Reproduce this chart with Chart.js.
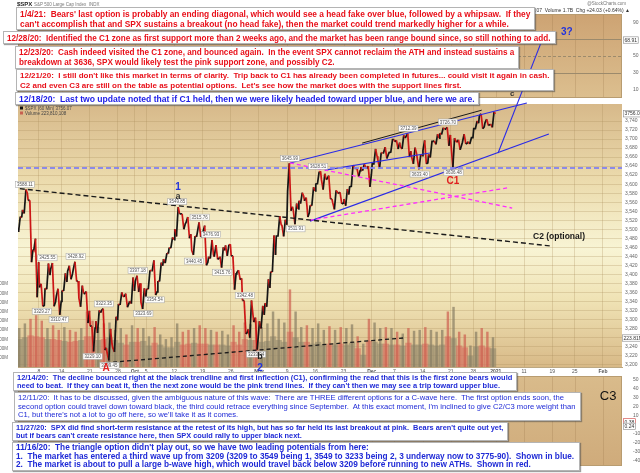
<!DOCTYPE html>
<html><head><meta charset="utf-8">
<script src="https://cdn.jsdelivr.net/npm/chart.js@4.4.1/dist/chart.umd.min.js"></script>
<style>
html,body{margin:0;padding:0;background:#fff;}
#wrap{position:relative;width:640px;height:473px;overflow:hidden;font-family:"Liberation Sans",Arial,sans-serif;}
canvas{position:absolute;left:0;}
.box{position:absolute;z-index:5;background:#fff;border:1px solid #b4b4b4;box-shadow:1px 1px 1px rgba(80,80,80,0.55);white-space:nowrap;font-weight:bold;box-sizing:border-box;padding:1px 3px;overflow:hidden;}
.red{color:#e8101a;}
.blue{color:#1c1ce8;}
.navy{color:#1f2ad6;}
.reg{font-weight:normal;}
</style></head><body>
<div id="wrap">
<canvas id="cTop" width="640" height="104" style="top:0"></canvas>
<canvas id="cBot" width="640" height="103" style="top:370px"></canvas>
<canvas id="cMain" width="640" height="473" style="top:0"></canvas>

<div class="box red" style="left:16px;top:7px;width:519px;height:23px;line-height:10px" data-tw="511"><span>1/4/21:&nbsp; Bears' last option is probably an ending diagonal, which would see a head fake over blue, followed by a whipsaw.&nbsp; If they</span><br><span>can't accomplish that and SPX sustains a breakout (no head fake), then the market could trend markedly higher for a while.</span></div>
<div class="box red" style="left:3px;top:31px;width:553px;height:13px;line-height:11px" data-tw="544"><span>12/28/20:&nbsp; Identified the C1 zone as first support more than 2 weeks ago, and the market has been range bound since, so still nothing to add.</span></div>
<div class="box red" style="left:15px;top:46px;width:504px;height:23px;line-height:10px" data-tw="496"><span>12/23/20:&nbsp; Cash indeed visited the C1 zone, and bounced again.&nbsp; In the event SPX cannot reclaim the ATH and instead sustains a</span><br><span>breakdown at 3636, SPX would likely test the pink support zone, and possibly C2.</span></div>
<div class="box red" style="left:16px;top:69px;width:538px;height:22px;line-height:10px" data-tw="530"><span>12/21/20:&nbsp; I still don't like this market in terms of clarity.&nbsp; Trip back to C1 has already been completed in futures... could visit it again in cash.</span><br><span>C2 and even C3 are still on the table as potential options.&nbsp; Let's see how the market does with the support lines first.</span></div>
<div class="box blue" style="left:15px;top:92px;width:464px;height:13px;line-height:11px" data-tw="456"><span>12/18/20:&nbsp; Last two update noted that if C1 held, then we were likely headed toward upper blue, and here we are.</span></div>

<div class="box navy" style="left:13px;top:372px;width:504px;height:19px;line-height:8.4px" data-tw="496"><span>12/14/20:&nbsp; The decline bounced right at the black trendline and first inflection (C1), confirming the read that this is the first zone bears would</span><br><span>need to beat.&nbsp; If they can beat it, then the next zone would be the pink trend lines.&nbsp; If they can't then we may see a trip toward upper blue.</span></div>
<div class="box navy reg" style="left:14px;top:392px;width:567px;height:29px;line-height:8.6px" data-tw="558"><span>12/11/20:&nbsp; It has to be discussed, given the ambiguous nature of this wave:&nbsp; There are THREE different options for a C-wave here.&nbsp; The first option ends soon, the</span><br><span>second option could travel down toward black, the third could retrace everything since September.&nbsp; At this exact moment, I'm inclined to give C2/C3 more weight than</span><br><span>C1, but there's not a lot to go off here, so we'll take it as it comes.</span></div>
<div class="box navy" style="left:12px;top:422px;width:496px;height:19px;line-height:8.4px" data-tw="488"><span>11/27/20:&nbsp; SPX did find short-term resistance at the retest of its high, but has so far held its last breakout at pink.&nbsp; Bears aren't quite out yet,</span><br><span>but if bears can't create resistance here, then SPX could rally to upper black next.</span></div>
<div class="box navy" style="left:12px;top:442px;width:568px;height:29px;line-height:8.6px" data-tw="559"><span>11/16/20:&nbsp; The triangle option didn't play out, so we have two leading potentials from here:</span><br><span>1.&nbsp; The market has entered a third wave up from 3209 (3209 to 3549 being 1, 3549 to 3233 being 2, 3 underway now to 3775-90).&nbsp; Shown in blue.</span><br><span>2.&nbsp; The market is about to pull a large b-wave high, which would travel back below 3209 before running to new ATHs.&nbsp; Shown in red.</span></div>
</div>

<script>
// ===== DATA (60-min SPX chart, summarised per trading day; index 0 = 1 Sep 2020) =====
const opens = [3507,3543,3564,3453,3371,3369,3412,3352,3364,3407,3411,3347,3357,3285,3296,3320,3226,3237,3334,3350,3341,
 3385,3338,3368,3408,3385,3434,3459,3500,3534,3515,3453,3493,3494,3439,3439,3439,3464,3441,3404,3342,3278,3294,
 3296,3336,3406,3485,3508,3584,3543,3563,3563,3553,3600,3610,3612,3559,3579,3567,3594,3635,3638,3634,
 3645,3654,3669,3670,3694,3683,3706,3660,3656,3675,3666,3696,3713,3722,3684,3694,3693,3694,3723,3751,3736,3733];
const highs = [3528,3588,3564,3479,3379,3424,3425,3368,3402,3419,3428,3375,3362,3285,3320,3324,3279,3306,3360,3357,3393,
 3397,3369,3409,3431,3426,3447,3482,3549,3534,3527,3485,3515,3508,3476,3465,3460,3466,3441,3409,3342,3342,3304,
 3330,3389,3486,3529,3521,3646,3557,3581,3570,3593,3628,3623,3619,3586,3582,3589,3642,3635,3644,3640,
 3678,3670,3682,3699,3697,3708,3712,3681,3665,3697,3695,3711,3725,3726,3702,3698,3711,3703,3740,3756,3744,3760];
const lows = [3494,3535,3427,3349,3329,3367,3329,3310,3363,3389,3384,3328,3292,3229,3270,3232,3209,3228,3332,3327,3335,
 3361,3323,3367,3354,3384,3425,3458,3484,3500,3480,3443,3483,3420,3435,3433,3415,3441,3366,3388,3268,3259,3233,
 3280,3328,3405,3485,3484,3541,3511,3557,3527,3552,3601,3588,3567,3544,3556,3552,3595,3617,3630,3594,
 3645,3635,3657,3671,3678,3678,3660,3645,3633,3645,3659,3688,3710,3685,3636,3676,3689,3689,3723,3723,3730,3726];
const closes = [3526,3580,3455,3427,3331,3398,3339,3340,3383,3401,3385,3357,3319,3281,3315,3237,3246,3298,3351,3335,3363,
 3380,3348,3408,3361,3419,3446,3477,3534,3512,3489,3483,3484,3427,3443,3436,3453,3465,3401,3391,3271,3310,3270,
 3310,3370,3443,3510,3510,3550,3545,3573,3537,3585,3627,3610,3567,3582,3558,3577,3635,3630,3638,3622,
 3662,3669,3666,3699,3692,3702,3673,3668,3663,3647,3695,3702,3722,3709,3695,3687,3691,3703,3735,3727,3732,3756];
// volume, millions (peak hourly bar and typical hourly bar of each day)
const volPeak = [420,470,520,560,500,420,450,400,430,400,380,420,600,500,430,470,480,400,420,350,450,
 420,420,330,430,350,300,320,470,380,400,420,450,420,400,380,390,350,450,380,480,460,500,
 430,470,600,520,480,840,600,430,450,420,470,400,440,400,430,420,460,330,250,520,
 480,420,430,420,380,360,420,390,400,430,400,380,400,600,650,380,350,230,380,420,380,320];
const volBase = [300,320,340,330,320,300,300,290,280,270,280,290,330,330,290,300,320,290,260,240,270,
 270,280,230,260,240,210,210,270,240,250,260,250,250,240,240,240,230,270,240,300,290,290,
 270,280,330,290,270,380,320,270,270,250,270,240,250,240,250,240,260,200,130,280,
 270,250,250,240,240,230,260,240,240,250,240,230,240,330,310,230,210,120,220,230,210,200];

const xTickDays   = [4,8,13,18,21,23,28,33,38,43,48,53,58,63,67,72,77,81,85,90,95,99,104];
const xTickLabels = ['8','14','21','28','Oct','5','12','19','26','Nov','9','16','23','Dec','7','14','21','28','2021','11','19','25','Feb'];
const monthLabels = ['Oct','Nov','Dec','2021','Feb'];
const priceTicks = [3200,3220,3240,3260,3280,3300,3320,3340,3360,3380,3400,3420,3440,3460,3480,3500,3520,3540,3560,3580,3600,3620,3640,3660,3680,3700,3720,3740];
const volTicks = [100,200,300,400,500,600,700,800,900];
const rsiTicks = [10,30,50,70,90];
const oscTicks = [50,40,30,20,10,-10,-20,-30,-40];

// trend lines: [day index, price]
const blackLongLine  = [[0.6,3590],[94.6,3463]];
const blackLowLine   = [[15.9,3204],[68.7,3259]];
const blackUpperLine = [[61.3,3691],[82.5,3764]];
const blueUpperLine  = [[48.5,3647],[90.5,3780]];
const blueLowerLine  = [[52.05,3518],[94.4,3711]];
const blueMidLine    = [[54.7,3631],[73.3,3669]];
const blueSteepLine  = [[85.4,3669],[93.4,3926]];
const pinkFallLine   = [[48.5,3647],[87.9,3547]];
const pinkRiseLine   = [[52.0,3520],[87.2,3592]];
const breakdownLevel = 3636;

// price tags [day centre, price, text, above?]
const priceTags = [
 [1.5,3588.11,'3588.11',1],[5.5,3425.55,'3425.55',1],[10.5,3428.92,'3428.92',1],[4.5,3329.27,'3329.27',0],
 [7.5,3310.47,'3310.47',0],[15.5,3323.35,'3323.35',1],[13.5,3229.10,'3229.10',0],[16.5,3209.45,'3209.45',0],
 [21.5,3397.18,'3397.18',1],[22.5,3323.69,'3323.69',0],[24.5,3354.54,'3354.54',0],[28.5,3549.85,'3549.85',1],
 [32.5,3515.76,'3515.76',1],[31.5,3440.45,'3440.45',0],[34.5,3476.93,'3476.93',1],[36.5,3415.76,'3415.76',0],
 [40.5,3342.48,'3342.48',1],[42.5,3233.94,'3233.94',0],[48.5,3645.99,'3645.99',1],[49.5,3511.91,'3511.91',0],
 [53.5,3628.51,'3628.51',1],[69.5,3712.39,'3712.39',1],[71.5,3633.40,'3633.40',0],[76.5,3726.70,'3726.70',1],
 [77.5,3636.48,'3636.48',0]
];
// wave labels [day, price, text, colour, font]
const waveLabels = [
 [28.65,3594,'1','#2233dd','bold 10px'],[28.65,3572,'a','#333','bold 9px'],
 [15.9,3192,'A','#e02020','bold 10px'],[43.2,3217,'b','#222','bold 9px'],[43.2,3192,'2','#2233dd','bold 10px'],
 [77.4,3607,'C1','#e02020','bold 10px'],[87.9,3800,'c','#333','bold 8px'],[97.6,3937,'3?','#2233dd','bold 10px'],
 [96.2,3483,'C2 (optional)','#1a1a1a','bold 8.5px']
];
const c3Label = [104.9,31,'C3'];

const X_MIN = 0.28, X_MAX = 107.37;
const FONT = '"Liberation Sans", Arial, sans-serif';

function vGrid(chart, color){
  const {ctx, chartArea:a, scales:{x}} = chart;
  ctx.save(); ctx.strokeStyle=color; ctx.lineWidth=1;
  xTickDays.forEach(d=>{const px=Math.round(x.getPixelForValue(d))+0.5; ctx.beginPath(); ctx.moveTo(px,a.top); ctx.lineTo(px,a.bottom); ctx.stroke();});
  ctx.restore();
}
function valBox(ctx, x, y, text, border){
  ctx.save(); ctx.font='5px '+FONT; const w=ctx.measureText(text).width+3;
  ctx.fillStyle='#fff'; ctx.fillRect(x,y-3.5,w,7); ctx.strokeStyle=border||'#888'; ctx.lineWidth=0.6; ctx.strokeRect(x+0.3,y-3.2,w-0.6,6.4);
  ctx.fillStyle='#333'; ctx.textBaseline='middle'; ctx.textAlign='left'; ctx.fillText(text,x+1.5,y+0.3); ctx.restore();
}

// ===== TOP (RSI) PANEL =====
new Chart(document.getElementById('cTop'), {
  type:'line', data:{datasets:[]},
  options:{responsive:false, animation:false, events:[],
    layout:{padding:{top:14,left:18,right:0,bottom:2}},
    plugins:{legend:{display:false},tooltip:{enabled:false}},
    scales:{
      x:{type:'linear',min:X_MIN,max:X_MAX,display:false},
      y:{position:'right',min:0,max:100,afterFit(s){s.width=18;},afterBuildTicks(s){s.ticks=rsiTicks.map(v=>({value:v}));},
         grid:{display:false},border:{display:false},ticks:{font:{size:5,family:FONT},color:'#666',padding:3}}
    }},
  plugins:[{id:'topbg',
    beforeDraw(c){const {ctx,chartArea:a}=c; const g=ctx.createLinearGradient(0,a.top,0,a.bottom);
      g.addColorStop(0,'#cda373'); g.addColorStop(1,'#dcbf8f'); ctx.fillStyle=g; ctx.fillRect(a.left,a.top,a.right-a.left,a.bottom-a.top);
      vGrid(c,'rgba(150,115,70,0.25)');
      const y=c.scales.y; ctx.save(); ctx.strokeStyle='#9c8a6c'; ctx.lineWidth=1;
      [70,30].forEach(v=>{const py=Math.round(y.getPixelForValue(v))+0.5; ctx.beginPath(); ctx.moveTo(a.left,py); ctx.lineTo(a.right,py); ctx.stroke();});
      ctx.setLineDash([3,2]); const p5=Math.round(y.getPixelForValue(50))+0.5; ctx.beginPath(); ctx.moveTo(a.left,p5); ctx.lineTo(a.right,p5); ctx.stroke(); ctx.restore();
      ctx.save(); ctx.strokeStyle='#b89c70'; ctx.strokeRect(a.left+0.5,a.top+0.5,a.right-a.left-1,a.bottom-a.top-1); ctx.restore();
    },
    afterDraw(c){const {ctx}=c; ctx.save(); ctx.textBaseline='middle';
      ctx.fillStyle='#222'; ctx.font='bold 6px '+FONT; ctx.textAlign='left'; ctx.fillText('$SPX',17,4.5);
      ctx.fillStyle='#777'; ctx.font='4.5px '+FONT; ctx.fillText('S&P 500 Large Cap Index  INDX',34,4.5);
      ctx.textAlign='right'; ctx.fillText('@StockCharts.com',626,3.5);
      ctx.fillStyle='#333'; ctx.font='5px '+FONT; ctx.fillText('O 3733.27  H 3760.20  L 3726.88  C 3756.07  Volume 1.7B  Chg +24.03 (+0.64%) \u25B2',630,10.5);
      ctx.restore();
      valBox(ctx,623,c.scales.y.getPixelForValue(69),'68.91');
    }}]
});

// ===== BOTTOM PANEL =====
new Chart(document.getElementById('cBot'), {
  type:'line', data:{datasets:[]},
  options:{responsive:false, animation:false, events:[],
    layout:{padding:{top:4,left:18,right:0,bottom:0}},
    plugins:{legend:{display:false},tooltip:{enabled:false}},
    scales:{
      x:{type:'linear',min:X_MIN,max:X_MAX,afterFit(s){s.height=7;},afterBuildTicks(s){s.ticks=xTickDays.map(v=>({value:v}));},
         grid:{display:false},border:{display:false},
         ticks:{autoSkip:false,maxRotation:0,padding:0,font:{size:5,family:FONT},color:'#555',callback:(v,i)=>xTickLabels[i]}},
      y:{position:'right',min:-46,max:54,afterFit(s){s.width=18;},afterBuildTicks(s){s.ticks=oscTicks.map(v=>({value:v}));},
         grid:{display:false},border:{display:false},ticks:{font:{size:5,family:FONT},color:'#666',padding:3}}
    }},
  plugins:[{id:'botbg',
    beforeDraw(c){const {ctx,chartArea:a}=c; const g=ctx.createLinearGradient(0,a.top,0,a.bottom);
      g.addColorStop(0,'#d9bb8b'); g.addColorStop(1,'#cfab7b'); ctx.fillStyle=g; ctx.fillRect(a.left,a.top,a.right-a.left,a.bottom-a.top);
      vGrid(c,'rgba(150,115,70,0.25)');
      ctx.save(); ctx.strokeStyle='#b89c70'; ctx.strokeRect(a.left+0.5,a.top+0.5,a.right-a.left-1,a.bottom-a.top-1); ctx.restore();},
    afterDraw(c){const {ctx,scales:{x,y}}=c; ctx.save(); ctx.fillStyle='#111'; ctx.font='13px '+FONT; ctx.textAlign='center'; ctx.textBaseline='middle';
      ctx.fillText(c3Label[2], x.getPixelForValue(c3Label[0]), y.getPixelForValue(c3Label[1])); ctx.restore();
      valBox(ctx,623,y.getPixelForValue(3),'0.38','#d04040'); valBox(ctx,623,y.getPixelForValue(-2),'0.24');}
  }]
});

// ===== MAIN PRICE PANEL =====
const dayX = i => i + 0.5;
const lineDs = (pts, color, width, dash) => ({type:'line', data:pts.map(p=>({x:p[0],y:p[1]})), yAxisID:'y', xAxisID:'x',
  borderColor:color, borderWidth:width, borderDash:dash||[], pointRadius:0, tension:0, fill:false, clip:false, order:1});
// intraday path of each day: open -> first extreme -> second extreme -> close
const pricePath = [];
opens.forEach((o,i)=>{const up=closes[i]>=o;
  pricePath.push({x:i+0.08,y:o},{x:i+0.38,y:up?lows[i]:highs[i]},{x:i+0.68,y:up?highs[i]:lows[i]},{x:i+0.94,y:closes[i]});});

new Chart(document.getElementById('cMain'), {
  type:'bar',
  data:{datasets:[
    {type:'bar', data:volBase.map((v,i)=>({x:dayX(i),y:v})), yAxisID:'yv', grouped:false, barThickness:5.7,
      backgroundColor:closes.map((c,i)=>c>=opens[i]?'rgba(150,140,112,0.62)':'rgba(214,112,96,0.6)'), order:10},
    {type:'bar', data:volPeak.map((v,i)=>({x:dayX(i),y:v})), yAxisID:'yv', grouped:false, barThickness:1.8,
      backgroundColor:closes.map((c,i)=>c>=opens[i]?'rgba(135,125,100,0.7)':'rgba(205,95,80,0.7)'), order:9},
    {type:'line', data:pricePath, yAxisID:'y', borderWidth:1.7, pointRadius:0, tension:0, fill:false, order:5,
      borderColor:'#151515', segment:{borderColor:ctx=>ctx.p1.parsed.y>=ctx.p0.parsed.y?'#151515':'#cc1616'}},
    lineDs([[X_MIN,breakdownLevel],[X_MAX,breakdownLevel]],'rgba(130,130,240,0.9)',2,[5,3]),
    lineDs(blackLongLine,'#1a1a1a',1.4,[5,3]),
    lineDs(blackLowLine,'#1a1a1a',1.3,[4,3]),
    lineDs(blackUpperLine,'#1a1a1a',1),
    lineDs(pinkFallLine,'#ff2cff',1.3,[4,3]),
    lineDs(pinkRiseLine,'#ff2cff',1.3,[4,3]),
    lineDs(blueUpperLine,'#2a2ae6',1.1),
    lineDs(blueLowerLine,'#2a2ae6',1.1),
    lineDs(blueMidLine,'#2a2ae6',1.1),
    lineDs(blueSteepLine,'#2a2ae6',1.1)
  ]},
  options:{responsive:false, animation:false, events:[],
    layout:{padding:{top:104,left:0,right:0,bottom:0}},
    plugins:{legend:{display:false},tooltip:{enabled:false}},
    scales:{
      x:{type:'linear',min:X_MIN,max:X_MAX,offset:false,afterFit(s){s.height=106;},
         afterBuildTicks(s){s.ticks=xTickDays.map(v=>({value:v}));},
         grid:{offset:false,color:'rgba(170,140,90,0.28)',drawTicks:false},border:{display:true,color:'#bca882'},
         ticks:{autoSkip:false,maxRotation:0,padding:1.5,color:'#555',
           font:(ctx)=>({size:5,family:FONT,weight:(ctx.tick&&monthLabels.includes(xTickLabels[ctx.index]))?'bold':'normal'}),
           callback:(v,i)=>xTickLabels[i]}},
      y:{position:'right',min:3194.5,max:3777.7,afterFit(s){s.width=18;},
         afterBuildTicks(s){s.ticks=priceTicks.map(v=>({value:v}));},
         grid:{color:'rgba(170,140,90,0.28)',drawTicks:false},border:{display:false},
         ticks:{font:{size:5,family:FONT},color:'#666',padding:3}},
      yv:{position:'left',min:0,max:2859,afterFit(s){s.width=18;},
         afterBuildTicks(s){s.ticks=volTicks.map(v=>({value:v}));},
         grid:{display:false},border:{display:false},
         ticks:{font:{size:4.5,family:FONT},color:'#666',padding:2,callback:v=>v+'M'}}
    }},
  plugins:[{id:'mainDeco',
    beforeDraw(c){const {ctx,chartArea:a}=c; const g=ctx.createLinearGradient(0,a.top,0,a.bottom);
      g.addColorStop(0,'#d7b98a'); g.addColorStop(0.3,'#ecdcae'); g.addColorStop(0.55,'#f8f4d4'); g.addColorStop(0.75,'#efe2b4'); g.addColorStop(1,'#d8b987');
      ctx.fillStyle=g; ctx.fillRect(a.left,a.top,a.right-a.left,a.bottom-a.top);},
    afterDatasetsDraw(c){const {ctx,scales:{x,y}}=c;
      ctx.save(); ctx.font='4.5px '+FONT; ctx.textAlign='center'; ctx.textBaseline='middle';
      priceTags.forEach(([d,p,t,up])=>{const px=x.getPixelForValue(d), py=y.getPixelForValue(p)+(up?-5:5);
        const w=ctx.measureText(t).width+3; ctx.fillStyle='rgba(255,255,255,0.95)'; ctx.fillRect(px-w/2,py-3,w,6);
        ctx.strokeStyle='#a0a0a0'; ctx.lineWidth=0.5; ctx.strokeRect(px-w/2,py-3,w,6); ctx.fillStyle='#555'; ctx.fillText(t,px,py+0.3);});
      ctx.restore();
      ctx.save(); ctx.textAlign='center'; ctx.textBaseline='middle';
      waveLabels.forEach(([d,p,t,col,f])=>{ctx.font=f+' '+FONT; ctx.fillStyle=col; ctx.fillText(t,x.getPixelForValue(d),y.getPixelForValue(p));});
      ctx.restore();},
    afterDraw(c){const {ctx,scales:{y,yv}}=c;
      valBox(ctx,623,y.getPixelForValue(3756.07),'3756.07');
      valBox(ctx,622,yv.getPixelForValue(315),'223.81M');
      ctx.save(); ctx.textBaseline='middle'; ctx.textAlign='left'; ctx.font='4.5px '+FONT;
      ctx.fillStyle='#111'; ctx.fillRect(20,106.5,3,3); ctx.fillStyle='#444'; ctx.fillText('$SPX (60 Min) 3756.07',25,108.3);
      ctx.fillStyle='#c86050'; ctx.fillRect(20,111.5,3,3); ctx.fillStyle='#444'; ctx.fillText('Volume 223,810,108',25,113.3);
      ctx.restore();}
  }]
});

// fit annotation text to its box width
document.querySelectorAll('.box').forEach(b=>{
  const tw=+b.dataset.tw; b.style.fontSize='10px';
  let mw=0; b.querySelectorAll('span').forEach(s=>{mw=Math.max(mw,s.getBoundingClientRect().width);});
  b.style.fontSize=(10*tw/mw).toFixed(2)+'px';
});
</script>
</body></html>
